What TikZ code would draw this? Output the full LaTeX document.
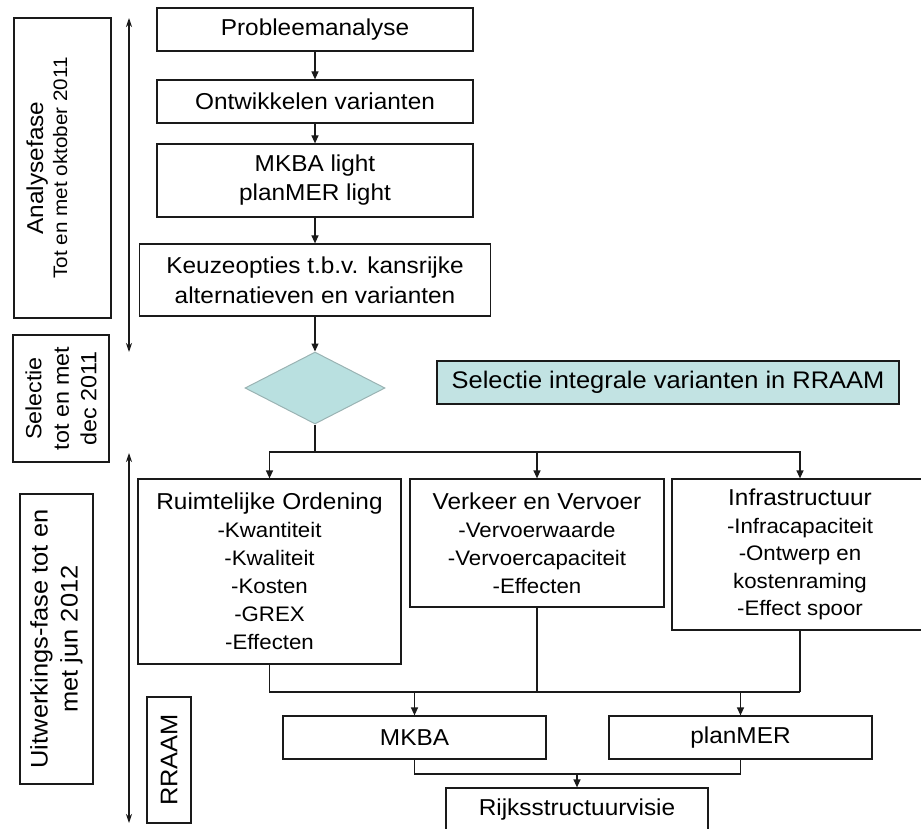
\documentclass[tikz,border=0pt]{standalone}
\usepackage{fontspec}
\setmainfont{Liberation Sans}[FakeStretch=1.06]
\usetikzlibrary{arrows.meta,shapes.geometric}
\newcommand\fsz[2]{\fontsize{#1}{#2}\selectfont}
\definecolor{selfill}{HTML}{C2E3E3}
\definecolor{diafill}{HTML}{B9E0E0}
\definecolor{diaedge}{HTML}{9AB3B3}
\definecolor{edge}{HTML}{1A1A1A}
\begin{document}
\begin{tikzpicture}[x=1pt,y=-1pt,
  box/.style={draw=edge, line width=1.2pt, fill=white, inner sep=0pt, align=center, font=\fsz{23}{29}},
  arr/.style={line width=1.2pt, draw=edge, -{Triangle[length=8pt,width=7pt]}},
  ln/.style={line width=1.2pt, draw=edge},
  dbl/.style={line width=1.1pt, draw=edge, {Stealth[length=9pt,width=6pt]}-{Stealth[length=9pt,width=6pt]}}
]
\useasboundingbox (0,0) rectangle (921,829);
\clip (0,0) rectangle (921,829);

% main flow
\node[box, minimum width=316pt, minimum height=43pt] (prob) at (315,29.5) {Probleemanalyse};
\node[box, minimum width=316pt, minimum height=43pt] (ontw) at (315,101.5) {Ontwikkelen varianten};
\node[box, minimum width=316pt, minimum height=73pt] (mkbal) at (315,180.5) {MKBA light\\planMER light};
\node[box, minimum width=351pt, minimum height=72pt, font=\fsz{23}{30}] (keuze) at (315,280) {Keuzeopties t.b.v. kansrijke\\alternatieven en varianten};
\node[diamond, draw=diaedge, fill=diafill, line width=1pt, aspect=1.94, minimum width=140pt, minimum height=72pt, inner sep=0pt] (dia) at (315,388) {};
\node[box, fill=selfill, minimum width=462pt, minimum height=43pt, font=\fsz{24}{29}] (selint) at (668,382.5) {Selectie integrale varianten in RRAAM};

\node[box, minimum width=263pt, minimum height=185pt, font=\fsz{21}{28}] (ruim) at (269.5,571.5) {{\fsz{23}{28}Ruimtelijke Ordening}\\-Kwantiteit\\-Kwaliteit\\-Kosten\\-GREX\\-Effecten};
\node[box, minimum width=254pt, minimum height=128pt, font=\fsz{21}{28}] (verk) at (537,543) {{\fsz{23}{28}Verkeer en Vervoer}\\-Vervoerwaarde\\-Vervoercapaciteit\\-Effecten};
\node[box, minimum width=256pt, minimum height=151pt, font=\fsz{21}{27.5}] (infra) at (800,554.5) {{\fsz{23}{27.5}Infrastructuur}\\-Infracapaciteit\\-Ontwerp en\\kostenraming\\-Effect spoor};

\node[box, minimum width=263pt, minimum height=43pt] (mkba) at (414.5,737.5) {MKBA};
\node[box, minimum width=263pt, minimum height=43pt] (plan) at (740.5,737.5) {planMER};
\node[box, minimum width=262pt, minimum height=43pt] (rijks) at (577,809.5) {Rijksstructuurvisie};

% left phase boxes
\node[box, minimum width=97pt, minimum height=300pt] (ana) at (62.5,168) {};
\node[rotate=90, align=center, inner sep=0pt, font=\fsz{19.5}{24}] (anat) at (47,168) {{\fsz{23}{24}Analysefase}\\Tot en met oktober 2011};
\node[box, rotate=90, minimum width=127pt, minimum height=96pt, font=\fsz{22}{27.5}] (sel) at (61,398.5) {Selectie\\tot en met\\dec 2011};
\node[box, rotate=90, minimum width=290pt, minimum height=73pt, font=\fsz{24}{30}] (uitw) at (56.5,639) {Uitwerkings-fase tot en\\met jun 2012};
\node[box, rotate=90, minimum width=126pt, minimum height=44pt, font=\fsz{24}{29}] (rraam) at (169,760) {RRAAM};

% double arrows
\coordinate (d1a) at (129,18);
\coordinate (d1b) at (129,352);
\coordinate (d2a) at (129,453);
\coordinate (d2b) at (129,823);
\draw[dbl] (d1a) -- (d1b);
\draw[dbl] (d2a) -- (d2b);

% connectors
\draw[arr] (prob) -- (ontw);
\draw[arr] (ontw) -- (mkbal);
\draw[arr] (mkbal) -- (keuze);
\draw[arr] (keuze) -- (dia);
\coordinate (br) at (315,452);
\draw[ln] (dia.south) -- (br);
\draw[arr] (br) -| (ruim.north);
\draw[arr] (br) -| (verk.north);
\draw[arr] (br) -| (infra.north);
\coordinate (m1) at (800,692);
\draw[ln] (ruim.south) |- (m1);
\draw[ln] (infra.south) -- (m1);
\draw[ln] (verk.south) -- (verk.south |- m1);
\draw[arr] (mkba.north |- m1) -- (mkba.north);
\draw[arr] (plan.north |- m1) -- (plan.north);
\coordinate (m2) at (577,774);
\draw[ln] (mkba.south) |- (m2) -| (plan.south);
\draw[arr] (m2) -- (rijks.north);
\end{tikzpicture}
\end{document}
